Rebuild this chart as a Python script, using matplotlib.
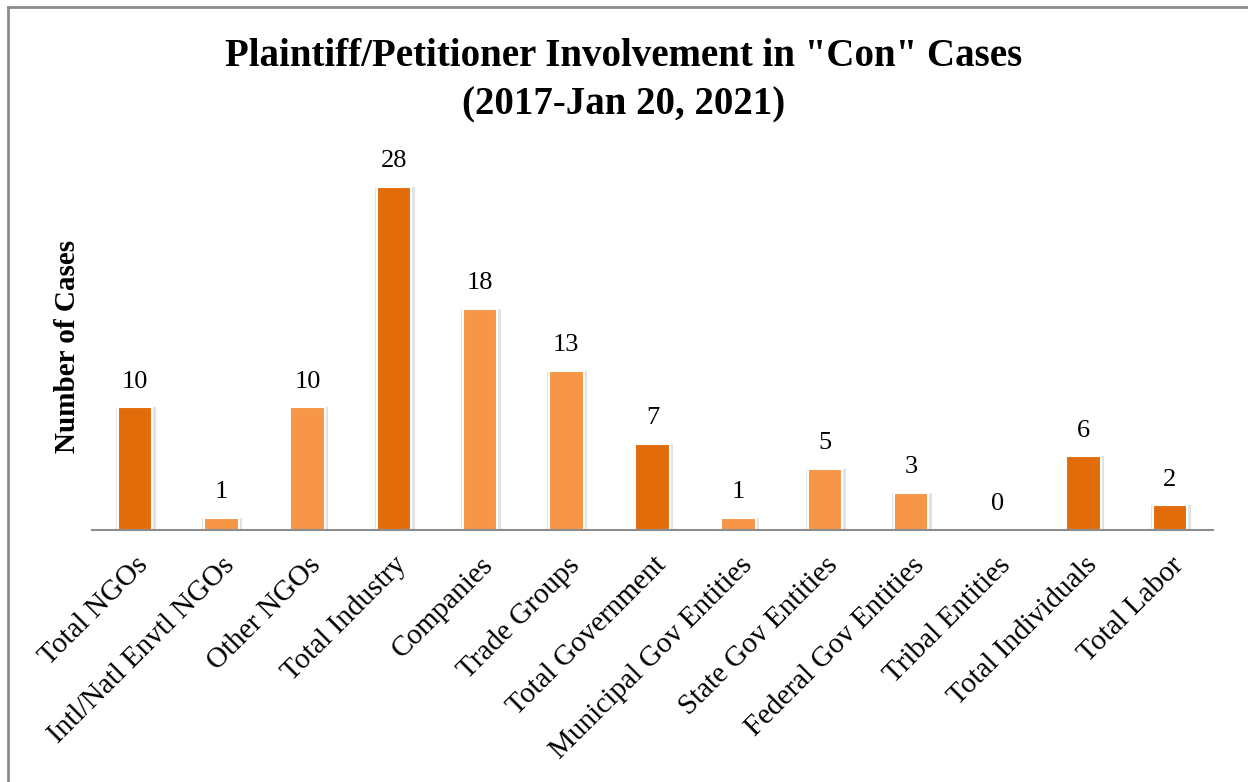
import matplotlib.pyplot as plt
import numpy as np
from matplotlib.lines import Line2D

categories = ["Total NGOs", "Intl/Natl Envtl NGOs", "Other NGOs", "Total Industry",
              "Companies", "Trade Groups", "Total Government", "Municipal Gov Entities",
              "State Gov Entities", "Federal Gov Entities", "Tribal Entities",
              "Total Individuals", "Total Labor"]
cases = [10, 1, 10, 28, 18, 13, 7, 1, 5, 3, 0, 6, 2]
is_total = [True, False, False, True, False, False, True, False, False, False, False, True, True]

dark = "#E36C0A"
light = "#F79646"

plt.rcParams['font.family'] = ['Liberation Serif', 'DejaVu Serif']

W, H = 1248, 782
fig = plt.figure(figsize=(W/100, H/100), dpi=100)
ax = fig.add_axes([92/W, 1-530/H, (1213-92)/W, (530-162)/H])

x = np.arange(len(categories))
colors = [dark if t else light for t in is_total]
# soft shadow behind bars
ax.bar(x + 0.01, cases, width=0.46, color="#e2e2e2", zorder=1)
ax.bar(x, cases, width=0.40, color=colors, edgecolor="white", linewidth=1.5, zorder=2)

for xi, v in zip(x, cases):
    ax.text(xi, v + 1.2, str(v), ha="center", va="bottom", fontsize=19)

ax.set_xlim(-0.5, len(categories) - 0.5)
ax.set_ylim(0, 30)
ax.set_yticks([])
for s in ["top", "right", "left"]:
    ax.spines[s].set_visible(False)
ax.spines["bottom"].set_color("#8c8c8c")
ax.spines["bottom"].set_linewidth(1.5)
ax.set_xticks(x)
ax.set_xticklabels(categories, rotation=45, ha="right", rotation_mode="anchor", fontsize=21)
ax.tick_params(axis="x", length=0, pad=16)

ax.set_ylabel("Number of Cases", fontsize=21, fontweight="bold", labelpad=8)
fig.text(0.5, 1-57/H, 'Plaintiff/Petitioner Involvement in "Con" Cases',
         ha="center", va="center", fontsize=28, fontweight="bold")
fig.text(0.5, 1-105/H, '(2017-Jan 20, 2021)',
         ha="center", va="center", fontsize=28, fontweight="bold")

# outer frame (left and top edges visible)
fig.add_artist(Line2D([8/W, 8/W], [0, 1-7/H], color="#8c8c8c", lw=2, transform=fig.transFigure))
fig.add_artist(Line2D([8/W, 1], [1-7/H, 1-7/H], color="#8c8c8c", lw=2, transform=fig.transFigure))

fig.savefig("out.png", dpi=100)
